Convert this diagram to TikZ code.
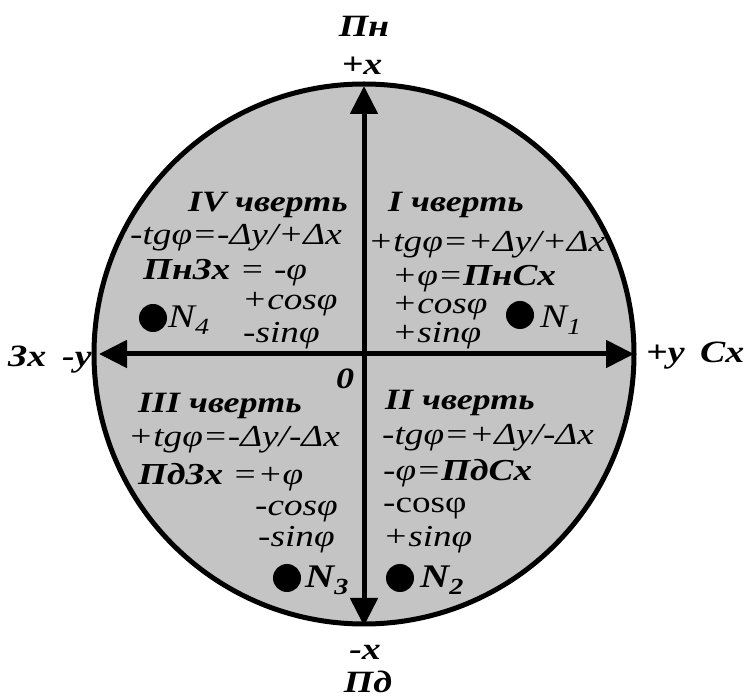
\documentclass[tikz,border=0pt]{standalone}
\usepackage{fontspec}
\setmainfont{Liberation Serif}[FakeStretch=1.22]
\usetikzlibrary{arrows.meta}
\definecolor{quadfill}{RGB}{196,196,196}
\tikzset{
  txt/.style={anchor=base west, inner sep=0pt, font=\fontsize{30.5}{30}\selectfont\itshape},
  txtup/.style={anchor=base west, inner sep=0pt, font=\fontsize{30.5}{30}\selectfont},
  nlab/.style={anchor=base west, inner sep=0pt, font=\fontsize{33}{30}\selectfont\itshape},
  head/.style={anchor=base west, inner sep=0pt, font=\fontsize{29.5}{30}\selectfont\bfseries\itshape},
  outer/.style={anchor=base, inner sep=0pt, font=\fontsize{31}{32}\selectfont\bfseries\itshape},
  dot/.style={circle, fill=black, inner sep=0pt, minimum size=28pt},
  axis/.style={line width=5pt, -{Triangle[width=27pt,length=28pt]}},
}
\begin{document}
\begin{tikzpicture}[x=1pt,y=-1pt]
\useasboundingbox (0,0) rectangle (748,700);
\coordinate (c) at (364,354);
\fill[quadfill] (c) circle (270);
\draw[line width=5pt] (c) circle (270);
\coordinate (top) at (364,86);
\coordinate (bot) at (364,626);
\coordinate (lft) at (99,354);
\coordinate (rgt) at (634,354);
\draw[axis] (c) -- (top);
\draw[axis] (c) -- (bot);
\draw[axis] (c) -- (lft);
\draw[axis] (c) -- (rgt);
% outer labels
\node[outer] (pn) at (364,37) {Пн};
\node[outer] (px) at (362,75) {+x};
\node[outer] (mx) at (365,660) {-x};
\node[outer] (pd) at (368,692) {Пд};
\node[outer, anchor=base west] (zx) at (8,367) {Зх};
\node[outer, anchor=base west] (my) at (62,367) {-y};
\node[outer, anchor=base west] (py) at (646,363) {+y};
\node[outer, anchor=base west] (cx) at (700,363) {Cx};
\node[head, anchor=base] (zero) at (345,389) {0};
% quadrant IV
\node[head] (h4) at (188,212) {IV чверть};
\node[txt] (t4) at (130,245) {-tgφ=-Δy/+Δx};
\node[txt] (a4) at (143,280) {\bfseries ПнЗх\mdseries\ = -φ};
\node[txt] (c4) at (242,310) {+cosφ};
\node[txt] (s4) at (243,343) {-sinφ};
\node[dot] (d4) at (153,318) {};
\node[nlab] (n4) at (168,328) {N\textsubscript{4}};
% quadrant I
\node[head] (h1) at (388,212) {I чверть};
\node[txt] (t1) at (368,252) {+tgφ=+Δy/+Δx};
\node[txt] (a1) at (392,286) {+φ=\bfseries ПнСх};
\node[txt] (c1) at (392,314) {+cosφ};
\node[txt] (s1) at (392,343) {+sinφ};
\node[dot] (d1) at (520,315) {};
\node[nlab] (n1) at (540,328) {N\textsubscript{1}};
% quadrant III
\node[head] (h3) at (138,413) {III чверть};
\node[txt] (t3) at (128,447) {+tgφ=-Δy/-Δx};
\node[txt] (a3) at (138,485) {\bfseries ПдЗх\mdseries\ =+φ};
\node[txt] (c3) at (255,516) {-cosφ};
\node[txt] (s3) at (258,547) {-sinφ};
\node[dot] (d3) at (287,578) {};
\node[nlab] (n3) at (305,588) {\bfseries N\textsubscript{3}};
% quadrant II
\node[head] (h2) at (385,410) {II чверть};
\node[txt] (t2) at (382,445) {-tgφ=+Δy/-Δx};
\node[txt] (a2) at (383,481) {-φ=\bfseries ПдСх};
\node[txtup] (c2) at (383,513) {-cosφ};
\node[txt] (s2) at (383,547) {+sinφ};
\node[dot] (d2) at (400,578) {};
\node[nlab] (n2) at (420,588) {\bfseries N\textsubscript{2}};
\end{tikzpicture}
\end{document}
